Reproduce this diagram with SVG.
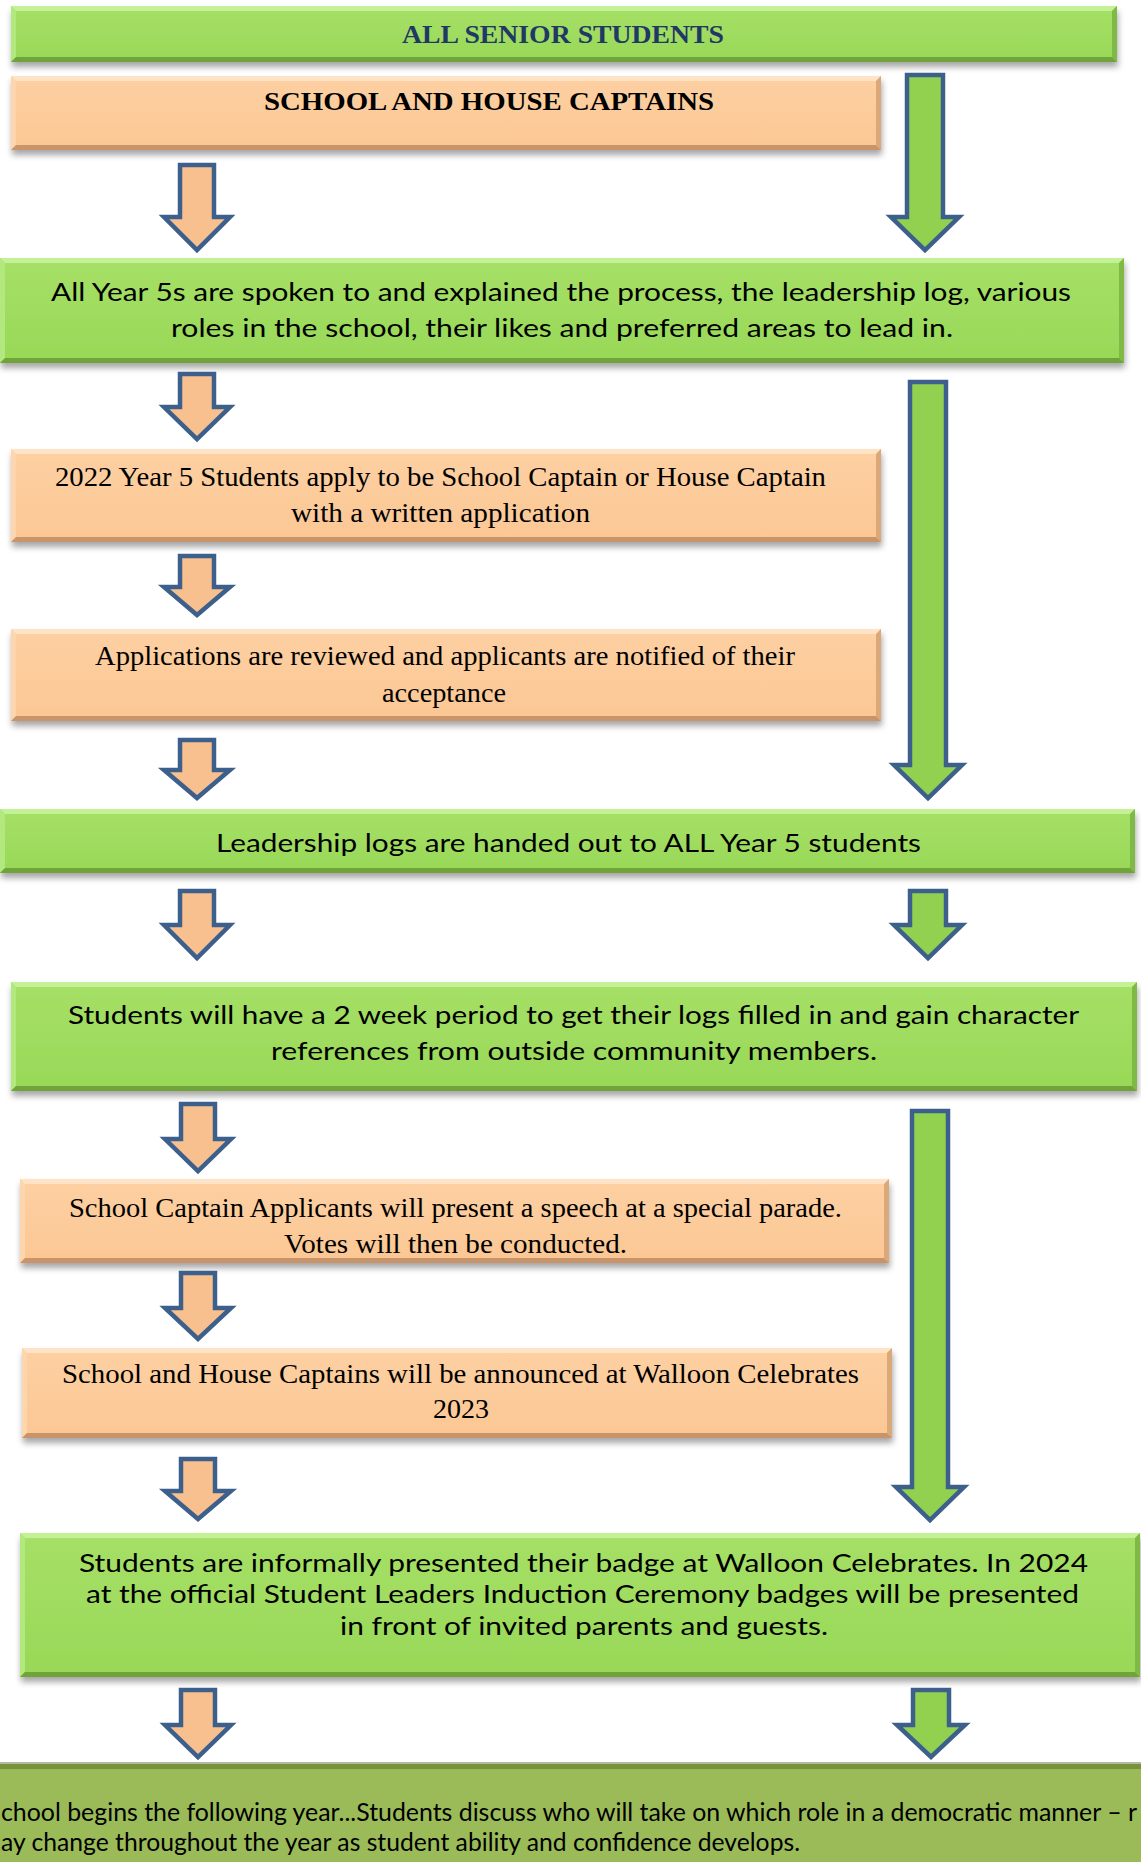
<svg xmlns="http://www.w3.org/2000/svg" width="1141" height="1862" viewBox="0 0 1141 1862">
<style>
.gmain{fill:url(#gGrad)}
.omain{fill:url(#oGrad)}
.gt{fill:#c4f196}.gl{fill:#b2e87e}.gr{fill:#7fba47}.gb{fill:#6fa43b}
.ot{fill:#fee3c6}.ol{fill:#fed6ae}.or{fill:#dba879}.ob{fill:#c9946a}
.sans{font-family:Lato,"Open Sans","Liberation Sans",sans-serif;font-size:25px;fill:#000}
.serif{font-family:"Liberation Serif","Times New Roman",serif;font-size:27px;fill:#000}
.head{font-family:"Liberation Serif","Times New Roman",serif;font-size:25px;font-weight:bold}
.oarrow{fill:#f9c08f;stroke:#3d5f8c;stroke-width:4.5;stroke-linejoin:miter}
.garrow{fill:#92d050;stroke:#3d5f8c;stroke-width:4.5;stroke-linejoin:miter}
</style>
<defs>
<linearGradient id="gGrad" x1="0" y1="0" x2="0" y2="1">
<stop offset="0" stop-color="#a6e067"/><stop offset="1" stop-color="#98d857"/>
</linearGradient>
<linearGradient id="oGrad" x1="0" y1="0" x2="0" y2="1">
<stop offset="0" stop-color="#fdd0a2"/><stop offset="1" stop-color="#fbc794"/>
</linearGradient>
<filter id="sh" x="-5%" y="-20%" width="110%" height="160%">
<feDropShadow dx="1" dy="5" stdDeviation="3" flood-color="#000" flood-opacity="0.35"/>
</filter>
</defs>

<g id="node-all-senior" filter="url(#sh)">
<rect class="gmain" x="11" y="6" width="1106" height="56"/>
<polygon class="gt" points="11,6 1117,6 1112,11 16,11"/>
<polygon class="gl" points="11,6 16,11 16,57 11,62"/>
<polygon class="gr" points="1117,6 1117,62 1112,57 1112,11"/>
<polygon class="gb" points="11,62 16,57 1112,57 1117,62"/>
</g>
<text class="head" x="402" y="43" fill="#1f3864" textLength="322" lengthAdjust="spacingAndGlyphs">ALL SENIOR STUDENTS</text>

<g id="node-captains" filter="url(#sh)">
<rect class="omain" x="11" y="76" width="870" height="74"/>
<polygon class="ot" points="11,76 881,76 876,81 16,81"/>
<polygon class="ol" points="11,76 16,81 16,145 11,150"/>
<polygon class="or" points="881,76 881,150 876,145 876,81"/>
<polygon class="ob" points="11,150 16,145 876,145 881,150"/>
</g>
<text class="head" x="264" y="110" fill="#000" textLength="450" lengthAdjust="spacingAndGlyphs">SCHOOL AND HOUSE CAPTAINS</text>

<g id="node-explained" filter="url(#sh)">
<rect class="gmain" x="0" y="258" width="1124" height="105"/>
<polygon class="gt" points="0,258 1124,258 1119,263 5,263"/>
<polygon class="gl" points="0,258 5,263 5,358 0,363"/>
<polygon class="gr" points="1124,258 1124,363 1119,358 1119,263"/>
<polygon class="gb" points="0,363 5,358 1119,358 1124,363"/>
</g>
<text class="sans" x="51" y="301" textLength="1020" lengthAdjust="spacingAndGlyphs">All Year 5s are spoken to and explained the process, the leadership log, various</text>
<text class="sans" x="171" y="337" textLength="782" lengthAdjust="spacingAndGlyphs">roles in the school, their likes and preferred areas to lead in.</text>

<g id="node-apply" filter="url(#sh)">
<rect class="omain" x="11" y="449" width="870" height="93"/>
<polygon class="ot" points="11,449 881,449 876,454 16,454"/>
<polygon class="ol" points="11,449 16,454 16,537 11,542"/>
<polygon class="or" points="881,449 881,542 876,537 876,454"/>
<polygon class="ob" points="11,542 16,537 876,537 881,542"/>
</g>
<text class="serif" x="55" y="486" textLength="771" lengthAdjust="spacingAndGlyphs">2022 Year 5 Students apply to be School Captain or House Captain</text>
<text class="serif" x="291" y="522" textLength="299" lengthAdjust="spacingAndGlyphs">with a written application</text>

<g id="node-reviewed" filter="url(#sh)">
<rect class="omain" x="11" y="629" width="870" height="92"/>
<polygon class="ot" points="11,629 881,629 876,634 16,634"/>
<polygon class="ol" points="11,629 16,634 16,716 11,721"/>
<polygon class="or" points="881,629 881,721 876,716 876,634"/>
<polygon class="ob" points="11,721 16,716 876,716 881,721"/>
</g>
<text class="serif" x="95" y="665" textLength="700" lengthAdjust="spacingAndGlyphs">Applications are reviewed and applicants are notified of their</text>
<text class="serif" x="382" y="702" textLength="124" lengthAdjust="spacingAndGlyphs">acceptance</text>

<g id="node-logs" filter="url(#sh)">
<rect class="gmain" x="0" y="809" width="1135" height="64"/>
<polygon class="gt" points="0,809 1135,809 1130,814 5,814"/>
<polygon class="gl" points="0,809 5,814 5,868 0,873"/>
<polygon class="gr" points="1135,809 1135,873 1130,868 1130,814"/>
<polygon class="gb" points="0,873 5,868 1130,868 1135,873"/>
</g>
<text class="sans" x="216" y="852" textLength="705" lengthAdjust="spacingAndGlyphs">Leadership logs are handed out to ALL Year 5 students</text>

<g id="node-two-week" filter="url(#sh)">
<rect class="gmain" x="11" y="982" width="1126" height="109"/>
<polygon class="gt" points="11,982 1137,982 1132,987 16,987"/>
<polygon class="gl" points="11,982 16,987 16,1086 11,1091"/>
<polygon class="gr" points="1137,982 1137,1091 1132,1086 1132,987"/>
<polygon class="gb" points="11,1091 16,1086 1132,1086 1137,1091"/>
</g>
<text class="sans" x="68" y="1024" textLength="1011" lengthAdjust="spacingAndGlyphs">Students will have a 2 week period to get their logs filled in and gain character</text>
<text class="sans" x="271" y="1060" textLength="606" lengthAdjust="spacingAndGlyphs">references from outside community members.</text>

<g id="node-speech" filter="url(#sh)">
<rect class="omain" x="20" y="1179" width="869" height="84"/>
<polygon class="ot" points="20,1179 889,1179 884,1184 25,1184"/>
<polygon class="ol" points="20,1179 25,1184 25,1258 20,1263"/>
<polygon class="or" points="889,1179 889,1263 884,1258 884,1184"/>
<polygon class="ob" points="20,1263 25,1258 884,1258 889,1263"/>
</g>
<text class="serif" x="69" y="1217" textLength="773" lengthAdjust="spacingAndGlyphs">School Captain Applicants will present a speech at a special parade.</text>
<text class="serif" x="284" y="1253" textLength="343" lengthAdjust="spacingAndGlyphs">Votes will then be conducted.</text>

<g id="node-announced" filter="url(#sh)">
<rect class="omain" x="22" y="1348" width="870" height="90"/>
<polygon class="ot" points="22,1348 892,1348 887,1353 27,1353"/>
<polygon class="ol" points="22,1348 27,1353 27,1433 22,1438"/>
<polygon class="or" points="892,1348 892,1438 887,1433 887,1353"/>
<polygon class="ob" points="22,1438 27,1433 887,1433 892,1438"/>
</g>
<text class="serif" x="62" y="1383" textLength="797" lengthAdjust="spacingAndGlyphs">School and House Captains will be announced at Walloon Celebrates</text>
<text class="serif" x="433" y="1418" textLength="56" lengthAdjust="spacingAndGlyphs">2023</text>

<g id="node-badge" filter="url(#sh)">
<rect class="gmain" x="20" y="1533" width="1120" height="144"/>
<polygon class="gt" points="20,1533 1140,1533 1135,1538 25,1538"/>
<polygon class="gl" points="20,1533 25,1538 25,1672 20,1677"/>
<polygon class="gr" points="1140,1533 1140,1677 1135,1672 1135,1538"/>
<polygon class="gb" points="20,1677 25,1672 1135,1672 1140,1677"/>
</g>
<text class="sans" x="79" y="1572" font-size="27" textLength="1009" lengthAdjust="spacingAndGlyphs">Students are informally presented their badge at Walloon Celebrates. In 2024</text>
<text class="sans" x="86" y="1603" font-size="27" textLength="993" lengthAdjust="spacingAndGlyphs">at the official Student Leaders Induction Ceremony badges will be presented</text>
<text class="sans" x="340" y="1635" font-size="27" textLength="488" lengthAdjust="spacingAndGlyphs">in front of invited parents and guests.</text>

<g id="node-following-year">
<rect x="0" y="1762" width="1141" height="100" fill="#9bbb59"/>
<rect x="0" y="1762" width="1141" height="2" fill="#b4b9a6"/>
<rect x="0" y="1764" width="1141" height="5" fill="#76923c"/>
<text class="sans" x="1" y="1821" textLength="1136" lengthAdjust="spacingAndGlyphs">chool begins the following year...Students discuss who will take on which role in a democratic manner – r</text>
<text class="sans" x="1" y="1851" textLength="799" lengthAdjust="spacingAndGlyphs">ay change throughout the year as student ability and confidence develops.</text>
</g>

<g id="connectors">
<path class="oarrow" d="M180,165 H214 V217 H230 L197,250 L164,217 H180 Z"/>
<path class="oarrow" d="M180,374 H214 V407 H230 L197,439 L164,407 H180 Z"/>
<path class="oarrow" d="M180,556 H214 V587 H230 L197,615 L164,587 H180 Z"/>
<path class="oarrow" d="M180,740 H214 V770 H230 L197,798 L164,770 H180 Z"/>
<path class="oarrow" d="M180,891 H214 V925 H230 L197,958 L164,925 H180 Z"/>
<path class="oarrow" d="M181,1104 H215 V1139 H231 L198,1171 L165,1139 H181 Z"/>
<path class="oarrow" d="M181,1273 H215 V1308 H231 L198,1339 L165,1308 H181 Z"/>
<path class="oarrow" d="M181,1459 H215 V1491 H231 L198,1519 L165,1491 H181 Z"/>
<path class="oarrow" d="M181,1690 H215 V1725 H231 L198,1757 L165,1725 H181 Z"/>
<path class="garrow" d="M907,75 H943 V217 H959 L925,250 L891,217 H907 Z"/>
<path class="garrow" d="M910,382 H946 V765 H962 L928,798 L894,765 H910 Z"/>
<path class="garrow" d="M910,891 H946 V925 H962 L928,958 L894,925 H910 Z"/>
<path class="garrow" d="M912,1111 H948 V1487 H964 L930,1520 L896,1487 H912 Z"/>
<path class="garrow" d="M913,1690 H949 V1725 H965 L931,1757 L897,1725 H913 Z"/>
</g>
</svg>
